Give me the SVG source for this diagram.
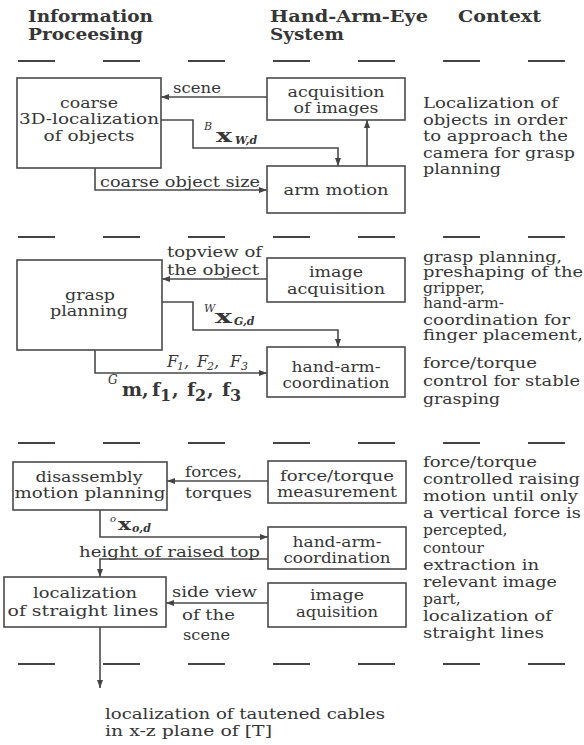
<svg xmlns="http://www.w3.org/2000/svg" width="584" height="745" viewBox="0 0 584 745">
<defs>
<marker id="ah" markerWidth="8" markerHeight="6" refX="8" refY="3" orient="auto" markerUnits="userSpaceOnUse"><path d="M0,0 L8,3 L0,6 z" fill="#444"/></marker>
<style>
.t{font-family:"DejaVu Serif","Liberation Serif",serif;font-size:15.5px;fill:#363636}
.c{text-anchor:middle}
.h{font-family:"DejaVu Serif","Liberation Serif",serif;font-weight:bold;font-size:16px;fill:#363636}
.box{fill:none;stroke:#4a4a4a;stroke-width:1.6}
.ln{fill:none;stroke:#4a4a4a;stroke-width:1.6;marker-end:url(#ah)}
.d{stroke:#444;stroke-width:2}
.mi{font-family:"DejaVu Serif","Liberation Serif",serif;font-style:italic;fill:#363636}
.mb{font-family:"DejaVu Serif","Liberation Serif",serif;font-weight:bold;fill:#363636}
</style>
</defs>
<rect width="584" height="745" fill="#fff"/>
<g id="header">
<text class="h" x="28" y="22" textLength="125" lengthAdjust="spacingAndGlyphs">Information</text>
<text class="h" x="28" y="40" textLength="115" lengthAdjust="spacingAndGlyphs">Proceesing</text>
<text class="h" x="270" y="22" textLength="158" lengthAdjust="spacingAndGlyphs">Hand-Arm-Eye</text>
<text class="h" x="270" y="40" textLength="74" lengthAdjust="spacingAndGlyphs">System</text>
<text class="h" x="458" y="22" textLength="83" lengthAdjust="spacingAndGlyphs">Context</text>
</g>
<g id="dashes">
<path class="d" d="M18,61h37M103,61h37M188,61h37M273,61h37M358,61h37M443,61h37M528,61h37"/>
<path class="d" d="M18,237h37M103,237h37M188,237h37M273,237h37M358,237h37M443,237h37M528,237h37"/>
<path class="d" d="M18,443h37M103,443h37M188,443h37M273,443h37M358,443h37M443,443h37M528,443h37"/>
<path class="d" d="M18,664h37M103,664h37M188,664h37M273,664h37M358,664h37M443,664h37M528,664h37"/>
</g>
<g id="connectors">
<path class="ln" d="M267,97H161"/>
<path class="ln" d="M161,120H193V148H338V166"/>
<path class="ln" d="M367,166V120"/>
<path class="ln" d="M95,168V190H267"/>
<path class="ln" d="M267,279H162"/>
<path class="ln" d="M162,302H193V330H338V347"/>
<path class="ln" d="M95,350V373H267"/>
<path class="ln" d="M268,481H167"/>
<path class="ln" d="M100,510V537H268"/>
<path class="ln" d="M268,559H100V577"/>
<path class="ln" d="M268,603H166"/>
<path class="ln" d="M100,627V688"/>
</g>
<g id="labels">
<text class="t" x="173" y="93" textLength="48" lengthAdjust="spacingAndGlyphs">scene</text>
<text class="mi" x="204" y="130" font-size="11">B</text>
<text class="mb" x="216" y="142" font-size="19" textLength="16" lengthAdjust="spacingAndGlyphs">x</text>
<text class="mi" x="235" y="144" font-size="11" font-weight="bold">W,d</text>
<text class="t" x="100" y="187" textLength="160" lengthAdjust="spacingAndGlyphs">coarse object size</text>
<text class="t" x="167" y="257" textLength="95" lengthAdjust="spacingAndGlyphs">topview of</text>
<text class="t" x="167" y="275" textLength="92" lengthAdjust="spacingAndGlyphs">the object</text>
<text class="mi" x="204" y="312" font-size="11">W</text>
<text class="mb" x="215" y="323" font-size="19" textLength="17" lengthAdjust="spacingAndGlyphs">x</text>
<text class="mi" x="234" y="325" font-size="11" font-weight="bold">G,d</text>
<text class="mi" x="167" y="367" font-size="16">F</text>
<text class="mi" x="177" y="370" font-size="11">1</text>
<text class="mi" x="184" y="367" font-size="16">,</text>
<text class="mi" x="197" y="367" font-size="16">F</text>
<text class="mi" x="207" y="370" font-size="11">2</text>
<text class="mi" x="214" y="367" font-size="16">,</text>
<text class="mi" x="230" y="367" font-size="16">F</text>
<text class="mi" x="241" y="370" font-size="11">3</text>
<text class="mi" x="108" y="384" font-size="12">G</text>
<text class="mb" x="122" y="396" font-size="19">m,</text>
<text class="mb" x="152" y="396" font-size="19">f</text>
<text class="mb" x="160" y="401" font-size="16">1</text>
<text class="mb" x="172" y="396" font-size="19">,</text>
<text class="mb" x="187" y="396" font-size="19">f</text>
<text class="mb" x="195" y="401" font-size="16">2</text>
<text class="mb" x="207" y="396" font-size="19">,</text>
<text class="mb" x="222" y="396" font-size="19">f</text>
<text class="mb" x="230" y="401" font-size="16">3</text>
<text class="t" x="185" y="477" textLength="57" lengthAdjust="spacingAndGlyphs">forces,</text>
<text class="t" x="185" y="498" textLength="67" lengthAdjust="spacingAndGlyphs">torques</text>
<text class="mi" x="110" y="522" font-size="10">o</text>
<text class="mb" x="118" y="530" font-size="17" textLength="13" lengthAdjust="spacingAndGlyphs">x</text>
<text class="mi" x="132" y="532" font-size="11" font-weight="bold">o,d</text>
<text class="t" x="79" y="557" textLength="181" lengthAdjust="spacingAndGlyphs">height of raised top</text>
<text class="t" x="172" y="597" textLength="85" lengthAdjust="spacingAndGlyphs">side view</text>
<text class="t" x="182" y="620" textLength="53" lengthAdjust="spacingAndGlyphs">of the</text>
<text class="t" x="183" y="640" textLength="47" lengthAdjust="spacingAndGlyphs">scene</text>
</g>
<g id="coarse-localization">
<rect class="box" x="17" y="78" width="144" height="90"/>
<text class="t c" x="89" y="108" textLength="58" lengthAdjust="spacingAndGlyphs">coarse</text>
<text class="t c" x="89" y="124" textLength="140" lengthAdjust="spacingAndGlyphs">3D-localization</text>
<text class="t c" x="89" y="141" textLength="91" lengthAdjust="spacingAndGlyphs">of objects</text>
</g>
<g id="acquisition-of-images">
<rect class="box" x="267" y="78" width="138" height="42"/>
<text class="t c" x="336" y="97" textLength="97" lengthAdjust="spacingAndGlyphs">acquisition</text>
<text class="t c" x="336" y="113" textLength="85" lengthAdjust="spacingAndGlyphs">of images</text>
</g>
<g id="arm-motion">
<rect class="box" x="267" y="166" width="138" height="47"/>
<text class="t c" x="336" y="195" textLength="105" lengthAdjust="spacingAndGlyphs">arm motion</text>
</g>
<g id="context-1">
<text class="t" x="423" y="108" textLength="135" lengthAdjust="spacingAndGlyphs">Localization of</text>
<text class="t" x="423" y="124.6" textLength="144" lengthAdjust="spacingAndGlyphs">objects in order</text>
<text class="t" x="423" y="141.2" textLength="145" lengthAdjust="spacingAndGlyphs">to approach the</text>
<text class="t" x="423" y="157.8" textLength="152" lengthAdjust="spacingAndGlyphs">camera for grasp</text>
<text class="t" x="423" y="174.4" textLength="78" lengthAdjust="spacingAndGlyphs">planning</text>
</g>
<g id="grasp-planning">
<rect class="box" x="17" y="260" width="145" height="90"/>
<text class="t c" x="90" y="300" textLength="50" lengthAdjust="spacingAndGlyphs">grasp</text>
<text class="t c" x="89" y="316" textLength="78" lengthAdjust="spacingAndGlyphs">planning</text>
</g>
<g id="image-acquisition">
<rect class="box" x="267" y="258" width="138" height="44"/>
<text class="t c" x="336" y="277" textLength="54" lengthAdjust="spacingAndGlyphs">image</text>
<text class="t c" x="336" y="294" textLength="98" lengthAdjust="spacingAndGlyphs">acquisition</text>
</g>
<g id="hand-arm-coordination-1">
<rect class="box" x="267" y="347" width="138" height="50"/>
<text class="t c" x="336" y="372" textLength="89" lengthAdjust="spacingAndGlyphs">hand-arm-</text>
<text class="t c" x="336" y="388" textLength="107" lengthAdjust="spacingAndGlyphs">coordination</text>
</g>
<g id="context-2">
<text class="t" x="423" y="261.5" textLength="139" lengthAdjust="spacingAndGlyphs">grasp planning,</text>
<text class="t" x="423" y="277" textLength="160" lengthAdjust="spacingAndGlyphs">preshaping of the</text>
<text class="t" x="423" y="292.5">gripper,</text>
<text class="t" x="423" y="308">hand-arm-</text>
<text class="t" x="423" y="324.5" textLength="147" lengthAdjust="spacingAndGlyphs">coordination for</text>
<text class="t" x="423" y="340" textLength="160" lengthAdjust="spacingAndGlyphs">finger placement,</text>
<text class="t" x="423" y="367.5" textLength="114" lengthAdjust="spacingAndGlyphs">force/torque</text>
<text class="t" x="423" y="386" textLength="157" lengthAdjust="spacingAndGlyphs">control for stable</text>
<text class="t" x="423" y="403.5" textLength="77" lengthAdjust="spacingAndGlyphs">grasping</text>
</g>
<g id="disassembly-motion-planning">
<rect class="box" x="13" y="462" width="154" height="48"/>
<text class="t c" x="89" y="482" textLength="107" lengthAdjust="spacingAndGlyphs">disassembly</text>
<text class="t c" x="90" y="498" textLength="151" lengthAdjust="spacingAndGlyphs">motion planning</text>
</g>
<g id="force-torque-measurement">
<rect class="box" x="268" y="461" width="138" height="42"/>
<text class="t c" x="337" y="481" textLength="114" lengthAdjust="spacingAndGlyphs">force/torque</text>
<text class="t c" x="337" y="497" textLength="120" lengthAdjust="spacingAndGlyphs">measurement</text>
</g>
<g id="hand-arm-coordination-2">
<rect class="box" x="268" y="527" width="138" height="42"/>
<text class="t c" x="337" y="547" textLength="89" lengthAdjust="spacingAndGlyphs">hand-arm-</text>
<text class="t c" x="337" y="563" textLength="107" lengthAdjust="spacingAndGlyphs">coordination</text>
</g>
<g id="localization-of-straight-lines">
<rect class="box" x="4" y="577" width="162" height="50"/>
<text class="t c" x="85" y="598" textLength="104" lengthAdjust="spacingAndGlyphs">localization</text>
<text class="t c" x="83" y="616" textLength="151" lengthAdjust="spacingAndGlyphs">of straight lines</text>
</g>
<g id="image-aquisition">
<rect class="box" x="268" y="583" width="138" height="44"/>
<text class="t c" x="337" y="600" textLength="54" lengthAdjust="spacingAndGlyphs">image</text>
<text class="t c" x="337" y="617" textLength="82" lengthAdjust="spacingAndGlyphs">aquisition</text>
</g>
<g id="context-3">
<text class="t" x="423" y="467" textLength="114" lengthAdjust="spacingAndGlyphs">force/torque</text>
<text class="t" x="423" y="484.1" textLength="157" lengthAdjust="spacingAndGlyphs">controlled raising</text>
<text class="t" x="423" y="501.2" textLength="155" lengthAdjust="spacingAndGlyphs">motion until only</text>
<text class="t" x="423" y="518.3" textLength="158" lengthAdjust="spacingAndGlyphs">a vertical force is</text>
<text class="t" x="423" y="535.4">percepted,</text>
<text class="t" x="423" y="552.5">contour</text>
<text class="t" x="423" y="569.6" textLength="116" lengthAdjust="spacingAndGlyphs">extraction in</text>
<text class="t" x="423" y="586.7" textLength="134" lengthAdjust="spacingAndGlyphs">relevant image</text>
<text class="t" x="423" y="603.8">part,</text>
<text class="t" x="423" y="620.9" textLength="129" lengthAdjust="spacingAndGlyphs">localization of</text>
<text class="t" x="423" y="638" textLength="121" lengthAdjust="spacingAndGlyphs">straight lines</text>
</g>
<g id="result">
<text class="t" x="105" y="719" textLength="280" lengthAdjust="spacingAndGlyphs">localization of tautened cables</text>
<text class="t" x="105" y="736" textLength="167" lengthAdjust="spacingAndGlyphs">in x-z plane of [T]</text>
</g>
</svg>
